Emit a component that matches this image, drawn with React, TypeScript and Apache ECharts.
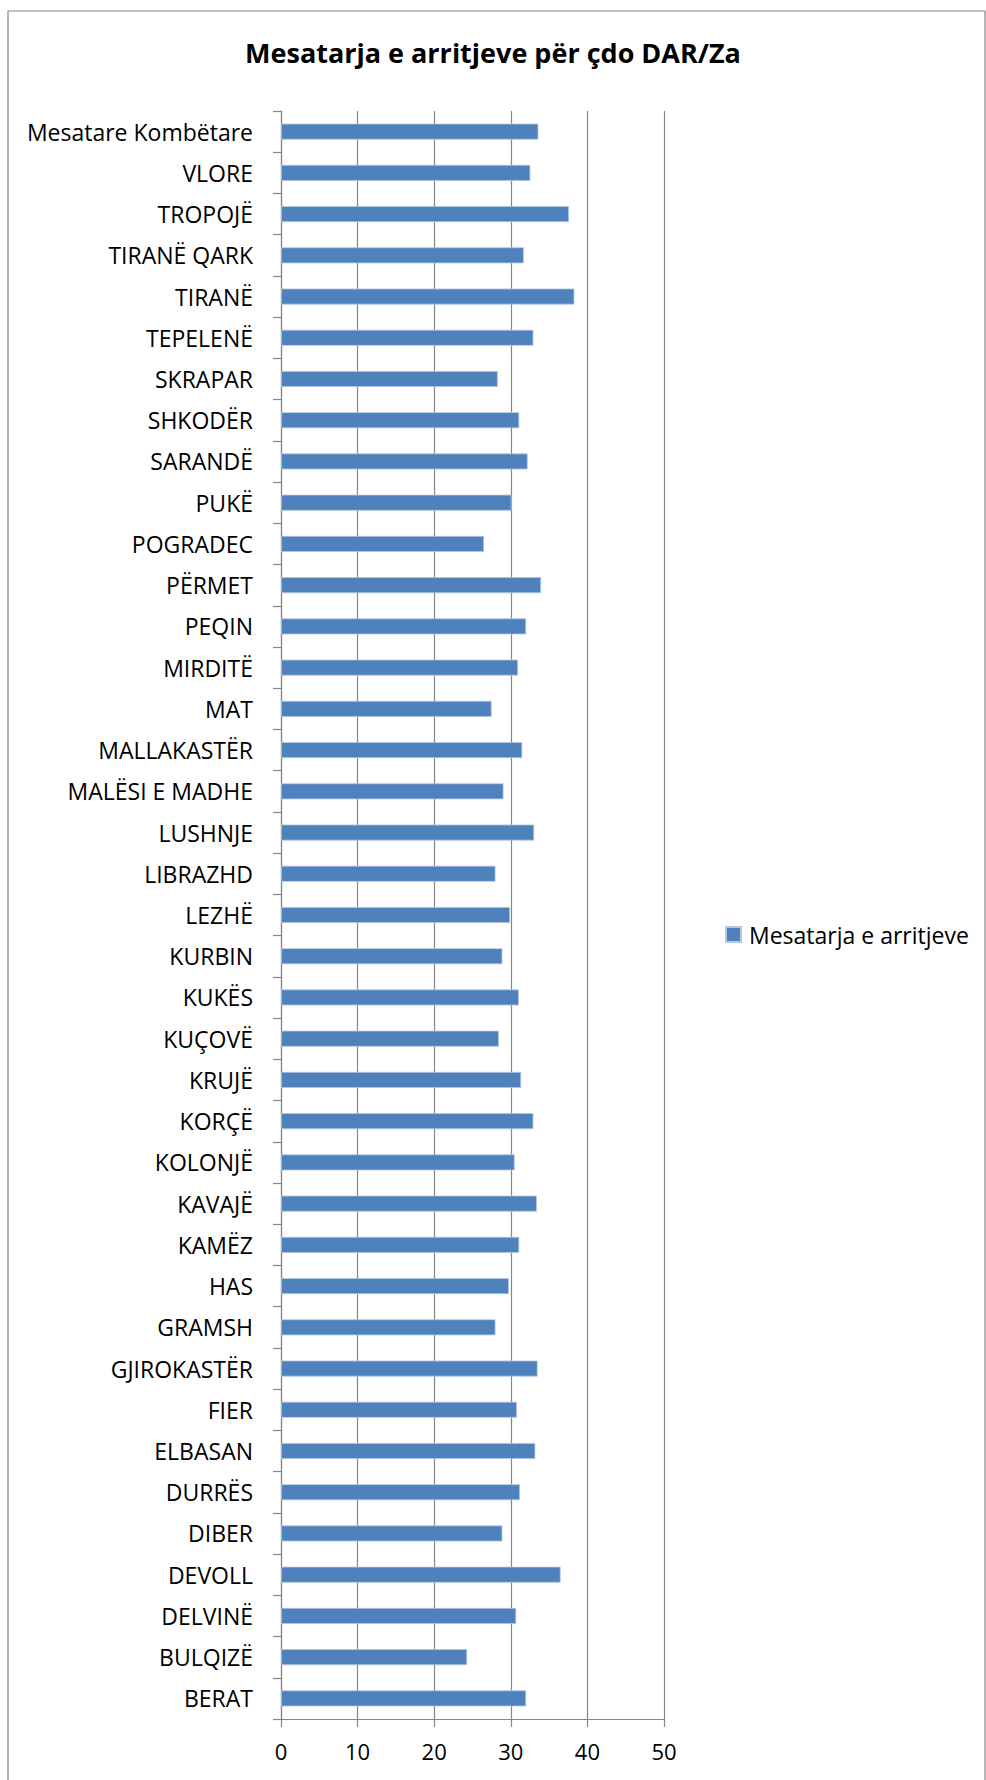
import React, { useEffect, useRef } from "react";
import * as echarts from "echarts";

const titleText = "Mesatarja e arritjeve për çdo DAR/Za";
const seriesName = "Mesatarja e arritjeve";

// bottom -> top (as in the chart)
const categories = [
  "BERAT", "BULQIZË", "DELVINË", "DEVOLL", "DIBER", "DURRËS", "ELBASAN", "FIER",
  "GJIROKASTËR", "GRAMSH", "HAS", "KAMËZ", "KAVAJË", "KOLONJË", "KORÇË", "KRUJË",
  "KUÇOVË", "KUKËS", "KURBIN", "LEZHË", "LIBRAZHD", "LUSHNJE", "MALËSI E MADHE",
  "MALLAKASTËR", "MAT", "MIRDITË", "PEQIN", "PËRMET", "POGRADEC", "PUKË", "SARANDË",
  "SHKODËR", "SKRAPAR", "TEPELENË", "TIRANË", "TIRANË QARK", "TROPOJË", "VLORE",
  "Mesatare Kombëtare",
];

const values = [
  32.0, 24.3, 30.7, 36.5, 28.9, 31.2, 33.2, 30.8,
  33.5, 28.0, 29.75, 31.1, 33.4, 30.5, 32.95, 31.35,
  28.45, 31.05, 28.9, 29.9, 28.0, 33.05, 29.05,
  31.5, 27.5, 30.95, 32.0, 33.95, 26.5, 30.1, 32.2,
  31.1, 28.3, 32.95, 38.3, 31.7, 37.6, 32.55,
  33.6,
];

const xTicks = { min: 0, max: 50, interval: 10 };

const FONT = "'Open Sans', sans-serif";
const GRID_COLOR = "#868686";
const BAR_COLOR = "#4F81BD";

export default function App() {
  const ref = useRef<HTMLDivElement>(null);

  useEffect(() => {
    if (!ref.current) return;
    const chart = echarts.init(ref.current, undefined, { renderer: "svg" });
    chart.setOption({
      animation: false,
      backgroundColor: "#ffffff",
      textStyle: { fontFamily: FONT },
      title: {
        text: titleText,
        left: "center",
        top: 34,
        textStyle: { fontFamily: FONT, fontSize: 27, fontWeight: "bold", color: "#000" },
      },
      legend: {
        data: [seriesName],
        left: 720,
        top: 918,
        orient: "vertical",
        icon: "rect",
        itemWidth: 15,
        itemHeight: 15,
        itemGap: 0,
        textStyle: { fontFamily: FONT, fontSize: 23, color: "#000", padding: [0, 0, 0, 3] },
      },
      graphic: [
        {
          type: "rect",
          shape: { x: 8, y: 11, width: 977, height: 1790 },
          style: { fill: "none", stroke: GRID_COLOR, lineWidth: 1.2 },
          silent: true,
          z: -1,
        },
      ],
      grid: { left: 281, right: 322, top: 111, bottom: 61, containLabel: false },
      xAxis: {
        type: "value",
        min: xTicks.min,
        max: xTicks.max,
        interval: xTicks.interval,
        axisLine: { show: true, lineStyle: { color: GRID_COLOR, width: 1.2 } },
        axisTick: { show: true, length: 8, lineStyle: { color: GRID_COLOR, width: 1.2 } },
        splitLine: { show: true, lineStyle: { color: GRID_COLOR, width: 1.2 } },
        axisLabel: { fontFamily: FONT, fontSize: 22, color: "#000", margin: 21 },
      },
      yAxis: {
        type: "category",
        data: categories,
        axisLine: { show: true, lineStyle: { color: GRID_COLOR, width: 1.2 } },
        axisTick: { show: true, length: 8, alignWithLabel: false, lineStyle: { color: GRID_COLOR, width: 1.2 } },
        axisLabel: { fontFamily: FONT, fontSize: 23, color: "#000", margin: 28, interval: 0 },
        splitLine: { show: false },
      },
      series: [
        {
          name: seriesName,
          type: "bar",
          data: values,
          barWidth: 16,
          itemStyle: { color: BAR_COLOR, borderColor: "#B3C8E3", borderWidth: 0.8 },
        },
      ],
    });
    return () => chart.dispose();
  }, []);

  return (
    <div
      ref={ref}
      style={{ position: "absolute", left: 0, top: 0, width: 986, height: 1780 }}
    />
  );
}
